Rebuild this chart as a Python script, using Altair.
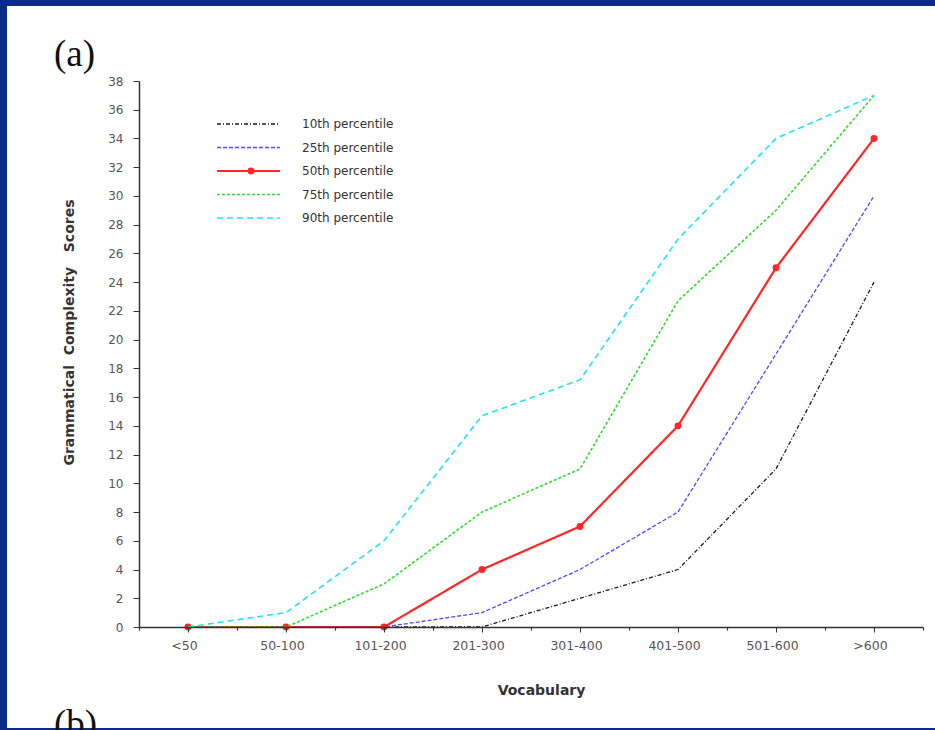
import altair as alt
import pandas as pd

# ---- data ----
categories = ["<50", "50-100", "101-200", "201-300", "301-400", "401-500", "501-600", ">600"]
series = ["10th percentile", "25th percentile", "50th percentile", "75th percentile", "90th percentile"]
p10 = [0, 0, 0, 0, 2, 4, 11, 24]
p25 = [0, 0, 0, 1, 4, 8, 19, 30]
p50 = [0, 0, 0, 4, 7, 14, 25, 34]
p75 = [0, 0, 3, 8, 11, 22.7, 29, 37]
p90 = [0, 1, 6, 14.7, 17.2, 27, 34, 37]
y_ticks = list(range(0, 39, 2))
panel_a = ["(a)"]
panel_b = ["(b)"]

rows = []
for name, vals in zip(series, [p10, p25, p50, p75, p90]):
    for i, (c, v) in enumerate(zip(categories, vals)):
        rows.append({"series": name, "idx": i, "vocab": c, "value": v})
df = pd.DataFrame(rows)
legend_df = pd.DataFrame({"series": series})

# ---- styles ----
colors = ["#1a1a1a", "#4a4aff", "#ff2626", "#2fdc2f", "#1ee6f2"]
dashes = [[4, 2, 1, 2], [4, 2], [1, 0], [3, 2], [6, 4]]
color_scale = alt.Scale(domain=series, range=colors)
dash_scale = alt.Scale(domain=series, range=dashes)

W, H = 784, 546
PAD_L, PAD_T = 139, 81

x_scale = alt.Scale(domain=[-0.5, len(categories) - 0.5], nice=False, zero=False)
y_scale = alt.Scale(domain=[0, 38], nice=False)

label_expr = str(categories) + "[datum.value]"

x_axis = alt.Axis(
    values=list(range(len(categories))), labelExpr=label_expr, orient="bottom", zindex=1,
    title="Vocabulary", titleFont="DejaVu Sans", titleFontSize=14, titleFontWeight="bold",
    titleColor="#333", titleX=402, titleY=67, titleAlign="center", titleBaseline="alphabetic",
    labelFont="DejaVu Sans", labelFontSize=12.5, labelColor="#555", labelPadding=7, labelOffset=-4,
    tickSize=5, tickColor="#333", domainColor="#333", domainWidth=1.5, grid=False,
)
y_axis = alt.Axis(
    values=y_ticks, orient="left", zindex=1,
    title="Grammatical\u00a0\u00a0Complexity\u00a0\u00a0\u00a0Scores",
    titleFont="DejaVu Sans", titleFontSize=14, titleFontWeight="bold", titleColor="#333",
    titleX=-66, titleY=251, titleAngle=270, titleAlign="center", titleBaseline="alphabetic",
    labelFont="DejaVu Sans", labelFontSize=12, labelColor="#555", labelPadding=10,
    tickSize=6, tickColor="#333", domainColor="#333", domainWidth=1.5, grid=False,
)

base = alt.Chart(df).encode(
    x=alt.X("idx:Q", scale=x_scale, axis=x_axis),
    y=alt.Y("value:Q", scale=y_scale, axis=y_axis),
    color=alt.Color("series:N", scale=color_scale, legend=None),
    strokeDash=alt.StrokeDash("series:N", scale=dash_scale, legend=None),
)


def only(names):
    return alt.FieldOneOfPredicate(field="series", oneOf=names)


lines_low = base.mark_line(strokeWidth=1.3).transform_filter(only(series[0:2]))
lines_mid = base.mark_line(strokeWidth=2.2).transform_filter(only(series[2:3]))
points_mid = alt.Chart(df).mark_circle(size=48, opacity=1).encode(
    x=alt.X("idx:Q", scale=x_scale, axis=x_axis),
    y=alt.Y("value:Q", scale=y_scale, axis=y_axis),
    color=alt.Color("series:N", scale=color_scale, legend=None),
).transform_filter(only(series[2:3]))
lines_high = base.mark_line(strokeWidth=1.6).transform_filter(only(series[3:5]))

main = alt.layer(lines_low, lines_mid, points_mid, lines_high)

# minor ticks at category boundaries (second, label-less axis on the same scale)
minor = alt.Chart(df).mark_point(opacity=0).encode(
    x=alt.X("idx:Q", scale=x_scale, axis=alt.Axis(
        values=[i - 0.5 for i in range(len(categories) + 1)], labels=False, domain=False,
        ticks=True, tickSize=3, tickColor="#333", tickWidth=1.2, title=None, grid=False,
        orient="bottom", zindex=1)),
    y=alt.value(0),
)

# ---- legend built from the series list ----
leg_y = alt.Y("series:N", sort=series, axis=None,
              scale=alt.Scale(type="point", domain=series, range=[43, 137], padding=0))


def leg_rule(names, width):
    return alt.Chart(legend_df).mark_rule(strokeWidth=width).encode(
        x=alt.value(78), x2=alt.value(141), y=leg_y,
        color=alt.Color("series:N", scale=color_scale, legend=None),
        strokeDash=alt.StrokeDash("series:N", scale=dash_scale, legend=None),
    ).transform_filter(only(names))


leg_dot = alt.Chart(legend_df).mark_circle(size=48, opacity=1).encode(
    x=alt.value(112), y=leg_y,
    color=alt.Color("series:N", scale=color_scale, legend=None),
).transform_filter(only(series[2:3]))
leg_text = alt.Chart(legend_df).mark_text(
    align="left", baseline="middle", font="DejaVu Sans", fontSize=12, color="#333"
).encode(x=alt.value(163), y=leg_y, text="series:N")

legend = alt.layer(leg_rule(series[0:2], 1.3), leg_rule(series[2:3], 2.2),
                   leg_rule(series[3:5], 1.6), leg_dot, leg_text)

# ---- white slide panel and panel labels ----
panel = alt.Chart(pd.DataFrame({"k": [0]})).mark_rect(color="white").encode(
    x=alt.value(7 - PAD_L), x2=alt.value(935 - PAD_L),
    y=alt.value(6 - PAD_T), y2=alt.value(728 - PAD_T),
)
label_a = alt.Chart(pd.DataFrame({"t": panel_a})).mark_text(
    align="left", baseline="alphabetic", font="Liberation Serif", fontSize=37, color="#111"
).encode(x=alt.value(54 - PAD_L), y=alt.value(66 - PAD_T), text="t:N")
label_b = alt.Chart(pd.DataFrame({"t": panel_b})).mark_text(
    align="left", baseline="alphabetic", font="Liberation Serif", fontSize=37, color="#111"
).encode(x=alt.value(54 - PAD_L), y=alt.value(736 - PAD_T), text="t:N")

chart = alt.layer(panel, label_a, label_b, main, minor, legend).resolve_scale(
    y="independent"
).resolve_axis(x="independent").properties(
    width=W, height=H,
    autosize=alt.AutoSizeParams(type="none"),
    padding={"left": PAD_L, "top": PAD_T, "right": 935 - PAD_L - W, "bottom": 730 - PAD_T - H},
    background="#0a2c86",
).configure_view(stroke=None)

chart.save("out.html", embed_options={"renderer": "svg", "actions": False})
